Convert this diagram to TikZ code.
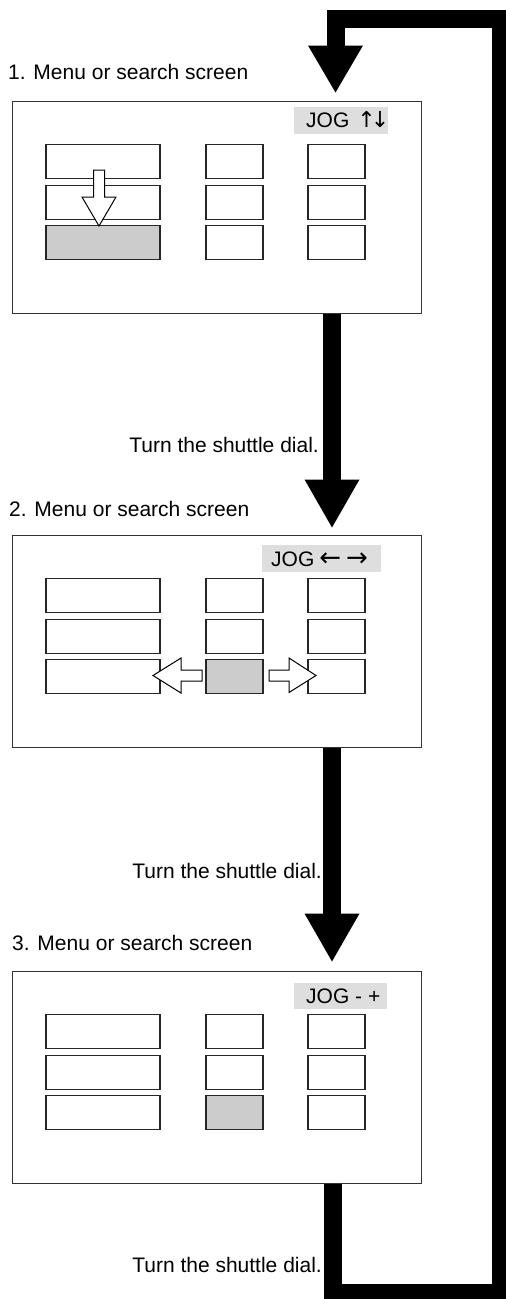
\documentclass[tikz,border=0pt]{standalone}
\usepackage{fontspec}
\setmainfont{Liberation Sans}
\newfontfamily\arrowfont{DejaVu Sans}
\begin{document}
\begin{tikzpicture}[x=1pt,y=-1pt,
  screen/.style={draw=black!80, line width=1pt, fill=white, minimum width=409pt, minimum height=212pt, inner sep=0pt},
  cell/.style={draw=black!85, line width=1.1pt, fill=white, inner sep=0pt, minimum height=34pt},
  wide/.style={cell, minimum width=114pt},
  small/.style={cell, minimum width=57pt},
  sel/.style={fill=black!20},
  jogbg/.style={fill=black!13, inner sep=0pt},
  lbl/.style={inner sep=0pt, font=\fontsize{21pt}{25pt}\selectfont},
  bigline/.style={line width=18pt},
  hollow/.style={draw=black, line width=1pt, fill=white, line join=miter},
]
\useasboundingbox (0,0) rectangle (506,1299);
\fill[white] (0,0) rectangle (506,1299);

% screens
\node[screen] (s1) at (216.5,207) {};
\node[screen] (s2) at (216.5,641) {};
\node[screen] (s3) at (216.5,1077) {};

% titles
\node[lbl, anchor=base west] (l1) at (8,79) {1. Menu or search screen};
\node[lbl, anchor=base west] (l2) at (9,516) {2. Menu or search screen};
\node[lbl, anchor=base west] (l3) at (12,950) {3. Menu or search screen};

% JOG labels
\node[jogbg, minimum width=94pt, minimum height=27pt] (g1) at (341,120.5) {};
\node[jogbg, minimum width=119pt, minimum height=27pt] (g2) at (321.5,558.5) {};
\node[jogbg, minimum width=93pt, minimum height=26pt] (g3) at (340.5,996) {};
\node[lbl, anchor=base west] (j1) at (306,127) {JOG\hspace{8pt}{\arrowfont\fontsize{22pt}{24pt}\selectfont ↑\kern-5pt↓}};
\node[lbl, anchor=base west] (j2) at (271,566) {JOG\hspace{5pt}{\arrowfont\fontsize{26pt}{24pt}\selectfont ←\hspace{5pt}→}};
\node[lbl, anchor=base west] (j3) at (306,1003) {JOG - +};

% cells
\foreach \n/\t in {1/101,2/535,3/971}{
  \foreach \r/\o in {1/60.5,2/101.5,3/141.5}{
    \pgfmathsetmacro\yy{\t+\o}
    \node[wide]  (c\n-\r-1) at (103,\yy) {};
    \node[small] (c\n-\r-2) at (234.5,\yy) {};
    \node[small] (c\n-\r-3) at (336.5,\yy) {};
  }
}
\node[wide, sel] at (c1-3-1) {};
\node[small, sel] at (c2-3-2) {};
\node[small, sel] at (c3-3-2) {};

% hollow arrows
\draw[hollow] (93.5,170) -- (104.5,170) -- (104.5,197) -- (116,197) -- (99,226) -- (82,197) -- (93.5,197) -- cycle;
\draw[hollow] (202,670) -- (181,670) -- (181,658) -- (153,675.5) -- (181,693) -- (181,681) -- (202,681) -- cycle;
\draw[hollow] (269,670) -- (289,670) -- (289,658) -- (316,675.5) -- (289,692.5) -- (289,681) -- (269,681) -- cycle;

% connectors between screens
\coordinate (t1) at ([xshift=115.5pt,yshift=7pt]s2.north);
\draw[bigline] ([xshift=115.5pt]s1.south) -- ([yshift=47pt]t1);
\fill (t1) -- ++(-27.5,-48) -- ++(55,0) -- cycle;
\coordinate (t2) at ([xshift=115.5pt,yshift=9pt]s3.north);
\draw[bigline] ([xshift=115.5pt]s2.south) -- ([yshift=47pt]t2);
\fill (t2) -- ++(-27.5,-48) -- ++(55,0) -- cycle;

% return loop
\coordinate (lb) at (501,1293);
\coordinate (lt) at (501,18.5);
\coordinate (t0) at ([xshift=119pt,yshift=8pt]s1.north);
\begin{scope}
\clip (0,0) rectangle (506,1299);
\draw[bigline, line join=miter] ([xshift=116.5pt]s3.south) |- (lb) -- (lt) -| ([yshift=46pt]t0);
\end{scope}
\fill (t0) -- ++(-27.5,-47) -- ++(55,0) -- cycle;

% step texts
\node[lbl, anchor=base east] (d1) at (319,452) {Turn the shuttle dial.};
\node[lbl, anchor=base east] (d2) at (322,878) {Turn the shuttle dial.};
\node[lbl, anchor=base east] (d3) at (322,1272) {Turn the shuttle dial.};
\end{tikzpicture}
\end{document}
